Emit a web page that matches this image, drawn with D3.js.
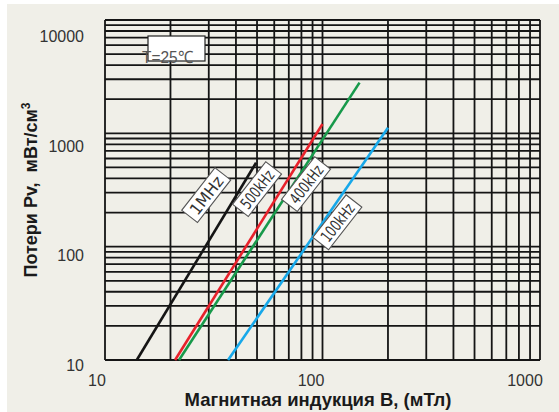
<!DOCTYPE html>
<html>
<head>
<meta charset="utf-8">
<script src="https://cdn.jsdelivr.net/npm/d3@7"></script>
<style>
  html, body { margin: 0; padding: 0; background: #ffffff; }
  svg { display: block; }
  text { white-space: pre; }
</style>
</head>
<body>
<svg id="chart" width="559" height="412"></svg>
<script>
// ---- data ----
const xTickValues = [10, 100, 1000];
const yTickValues = [10, 100, 1000, 10000];
const seriesNames = ["1MHz", "500kHz", "400kHz", "100kHz"];
const seriesColors = ["#151515", "#e8212b", "#17994a", "#17a8ea"];
// [B (mT), Pv (mW/cm3)]
const series1MHz   = [[14.0, 10], [49.5, 550]];
const series500kHz = [[21.0, 10], [100, 1210]];
const series400kHz = [[21.9, 10], [148, 2800]];
const series100kHz = [[36.8, 10], [200, 1120]];
const seriesData = [series1MHz, series500kHz, series400kHz, series100kHz];
// label anchor (B, Pv) for each series tag
const labelAnchors = [[29.2, 285], [50, 322], [84, 356], [117, 164]];
const tempLabel = "T=25\u2103";
const xTitle = "Магнитная индукция B, (мТл)";
const yTitleMain = "Потери Pv,  мВт/см";

// ---- layout ----
const svg = d3.select("#chart");
const W = 559, H = 412;
const plot = { left: 105, right: 540, top: 20, bottom: 360 };

svg.append("rect").attr("x", 7).attr("y", 4).attr("width", W - 7).attr("height", H - 4)
  .attr("fill", "#f0efe8");

const x = d3.scaleLog().domain([10, 1000]).range([plot.left, plot.right]);
const y = d3.scaleLog().domain([10, 10000]).range([plot.bottom, plot.top]);
// label scales (tick labels in the source are offset from the grid)
const xl = d3.scaleLog().domain([10, 1000]).range([97, 525]);
const yl = d3.scaleLog().domain([10, 10000]).range([365, 36]);

// grid
const g = svg.append("g");
const xGrid = x.ticks(20).filter(v => v >= 10 && v <= 1000);
const yGrid = y.ticks(30).filter(v => v >= 10 && v <= 10000);
g.selectAll("line.v").data(xGrid).join("line")
  .attr("x1", d => x(d)).attr("x2", d => x(d))
  .attr("y1", plot.top).attr("y2", plot.bottom)
  .attr("stroke", "#151515").attr("stroke-width", 1.8);
g.selectAll("line.h").data(yGrid).join("line")
  .attr("y1", d => y(d)).attr("y2", d => y(d))
  .attr("x1", plot.left).attr("x2", plot.right)
  .attr("stroke", "#151515").attr("stroke-width", 1.8);

// T label
svg.append("rect").attr("x", 148).attr("y", 36).attr("width", 57).attr("height", 25)
  .attr("fill", "#ffffff").attr("stroke", "#222").attr("stroke-width", 1.2);
svg.append("text").attr("x", 142).attr("y", 63).text(tempLabel)
  .attr("font-family", "Liberation Sans, Arial, sans-serif").attr("font-size", 17)
  .attr("fill", "#555").attr("textLength", 51).attr("lengthAdjust", "spacingAndGlyphs");

// curves
const line = d3.line().x(d => x(d[0])).y(d => y(d[1]));
svg.selectAll("path.curve").data(seriesData).join("path")
  .attr("d", line).attr("fill", "none")
  .attr("stroke", (d, i) => seriesColors[i]).attr("stroke-width", 2.6);

// series tags
const tags = svg.selectAll("g.tag").data(seriesNames).join("g")
  .attr("transform", (d, i) => `translate(${x(labelAnchors[i][0])},${y(labelAnchors[i][1])}) rotate(-52)`);
tags.append("rect").attr("x", -27).attr("y", -10).attr("width", 54).attr("height", 20)
  .attr("fill", "#ffffff").attr("stroke", "#555").attr("stroke-width", 1.1);
tags.append("text").attr("x", 0).attr("y", 6).attr("text-anchor", "middle")
  .attr("font-family", "Liberation Sans Narrow, DejaVu Sans Condensed, Arial, sans-serif")
  .attr("font-size", 16).attr("fill", "#333")
  .attr("textLength", 44).attr("lengthAdjust", "spacingAndGlyphs")
  .text(d => d);

// tick labels
svg.append("g").selectAll("text").data(xTickValues).join("text")
  .attr("x", d => xl(d)).attr("y", 386).attr("text-anchor", "middle")
  .attr("font-family", "Liberation Sans, Arial, sans-serif").attr("font-size", 16)
  .attr("fill", "#333").text(d => d);
svg.append("g").selectAll("text").data(yTickValues).join("text")
  .attr("x", 84).attr("y", d => yl(d) + 6).attr("text-anchor", "end")
  .attr("font-family", "Liberation Sans, Arial, sans-serif").attr("font-size", 16)
  .attr("fill", "#333").text(d => d);

// axis titles
svg.append("text").attr("x", 318).attr("y", 406).attr("text-anchor", "middle")
  .attr("font-family", "Liberation Sans, Arial, sans-serif").attr("font-size", 18.5)
  .attr("font-weight", "bold").attr("fill", "#1a1a1a").text(xTitle);
const yt = svg.append("text").attr("transform", "translate(37,190) rotate(-90)")
  .attr("text-anchor", "middle")
  .attr("font-family", "Liberation Sans, Arial, sans-serif").attr("font-size", 18)
  .attr("font-weight", "bold").attr("fill", "#1a1a1a");
yt.append("tspan").text(yTitleMain);
yt.append("tspan").attr("dy", -7).attr("font-size", 12).text("3");
</script>
</body>
</html>
